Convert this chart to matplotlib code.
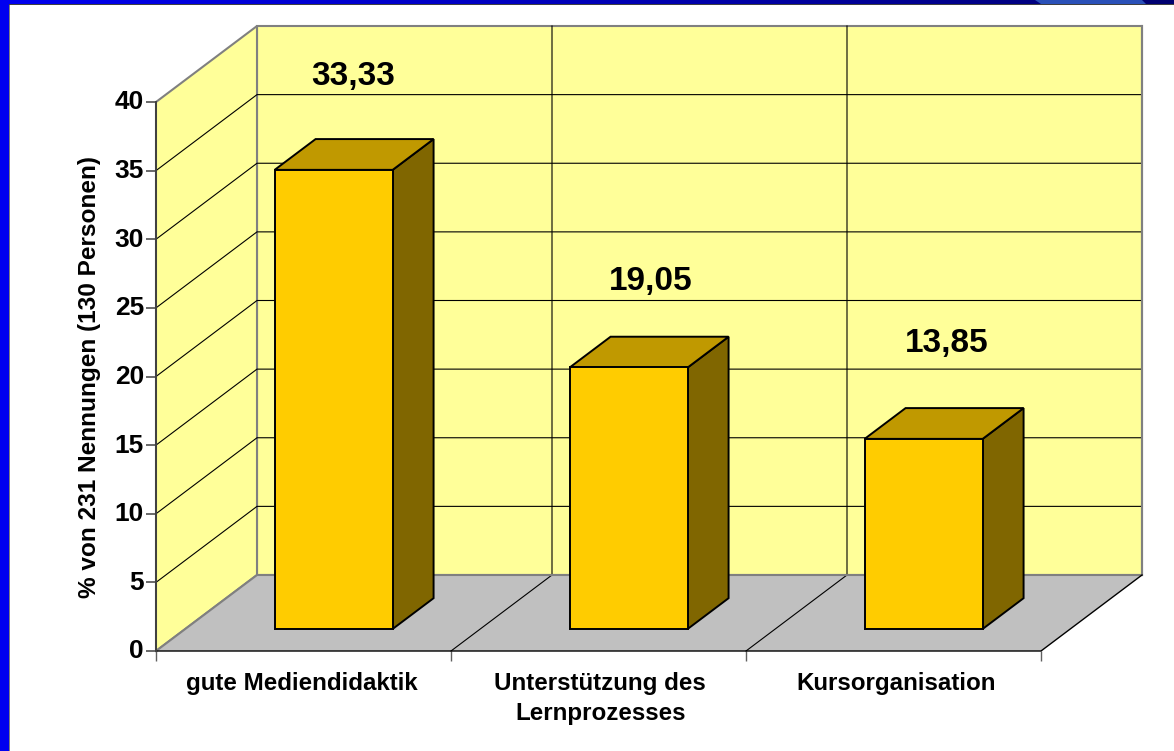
import matplotlib
matplotlib.use("Agg")
import matplotlib.pyplot as plt
from matplotlib.patches import Polygon, Rectangle
from matplotlib.colors import LinearSegmentedColormap
from matplotlib.transforms import ScaledTranslation
import numpy as np

plt.rcParams['font.family'] = ['Liberation Sans', 'DejaVu Sans']

categories = ["gute Mediendidaktik", "Unterstützung des\nLernprozesses", "Kursorganisation"]
# bar heights as drawn; the first bar stands a little above its printed label
values = [33.45, 19.05, 13.85]
value_labels = ["33,33", "19,05", "13,85"]
yticks = [0, 5, 10, 15, 20, 25, 30, 35, 40]
ylabel = "% von 231 Nennungen (130 Personen)"

W, H = 1174, 751
YMAX = 40

# depth of the 3D box, in data units per unit of depth
DX = 101 / 295
DY = 76 / (549 / YMAX)
BAR_W = 0.4
D0, D1 = 0.29, 0.695

# the value labels float at slightly different spots above each bar
label_dx = [0.07, 0.077, 0.08]
label_rise = [6.78, 6.25, 6.98]
# nudge of the category labels, points
cat_dx = [-1, 1.3, 2]


def proj(x, y, d=0.0):
    return (x + d * DX, y + d * DY)


fig = plt.figure(figsize=(W / 100, H / 100), dpi=100, facecolor='white')

# slide background: blue edge, navy strip on top
bg = fig.add_axes([0, 0, 1, 1], zorder=0)
bg.set_xlim(0, W)
bg.set_ylim(H, 0)
bg.axis('off')
bg.add_patch(Rectangle((0, 0), 9, H, fc='#0000f0', ec='none'))
bg.add_patch(Rectangle((9, 4), 1, H, fc='#808080', ec='none'))
cmap = LinearSegmentedColormap.from_list('top', ['#0000f0', '#0000b8', '#000070'])
bg.imshow(np.linspace(0, 1, 512).reshape(1, -1), extent=(0, W, 4, 0), cmap=cmap, aspect='auto')
bg.add_patch(Polygon([(1035, 0), (1142, 0), (1146, 4), (1041, 4)], fc='#2a50b8', ec='none'))
bg.add_patch(Rectangle((9, 4), W, 1, fc='#404040', ec='none'))
bg.set_xlim(0, W)
bg.set_ylim(H, 0)

ax = fig.add_axes([156 / W, (H - 651) / H, 885 / W, 549 / H], zorder=1)
ax.set_xlim(0, len(categories))
ax.set_ylim(0, YMAX)
ax.patch.set_visible(False)
for s in ax.spines.values():
    s.set_visible(False)
n = len(categories)

wall = '#ffff99'
edge = '#808080'
# back wall, side wall, floor
ax.add_patch(Polygon([proj(0, 0, 1), proj(n, 0, 1), proj(n, YMAX, 1), proj(0, YMAX, 1)],
                     fc=wall, ec=edge, lw=1.5, clip_on=False, zorder=1, joinstyle='miter'))
ax.add_patch(Polygon([proj(0, 0), proj(0, 0, 1), proj(0, YMAX, 1), proj(0, YMAX)],
                     fc=wall, ec=edge, lw=1.5, clip_on=False, zorder=1, joinstyle='miter'))
ax.add_patch(Polygon([proj(0, 0), proj(n, 0), proj(n, 0, 1), proj(0, 0, 1)],
                     fc='#c0c0c0', ec='none', clip_on=False, zorder=2))

# gridlines on the walls
for t in yticks[1:-1]:
    ax.plot(*zip(proj(0, t), proj(0, t, 1), proj(n, t, 1)), color='black', lw=0.8,
            clip_on=False, zorder=3)
for i in range(1, n):
    ax.plot(*zip(proj(i, 0), proj(i, 0, 1), proj(i, YMAX, 1)), color='black', lw=0.8,
            clip_on=False, zorder=3)
ax.plot(*zip(proj(n, 0, 1), proj(n, YMAX, 1)), color=edge, lw=1.5, clip_on=False, zorder=3)
ax.plot(*zip(proj(0, 0), proj(0, 0, 1), proj(n, 0, 1)), color=edge, lw=1.5, clip_on=False, zorder=3)
ax.plot(*zip(proj(0, 0), proj(n, 0), proj(n, 0, 1)), color='black', lw=1.0, clip_on=False, zorder=3)

# bars
for i, v in enumerate(values):
    x0 = i + 0.503 - BAR_W / 2
    x1 = i + 0.503 + BAR_W / 2
    ax.add_patch(Polygon([proj(x1, 0, D0), proj(x1, 0, D1), proj(x1, v, D1), proj(x1, v, D0)],
                         fc='#806600', ec='black', lw=1.4, clip_on=False, zorder=5))
    ax.add_patch(Polygon([proj(x0, v, D0), proj(x1, v, D0), proj(x1, v, D1), proj(x0, v, D1)],
                         fc='#c09900', ec='black', lw=1.4, clip_on=False, zorder=5))
    ax.add_patch(Polygon([proj(x0, 0, D0), proj(x1, 0, D0), proj(x1, v, D0), proj(x0, v, D0)],
                         fc='#ffcc00', ec='black', lw=1.4, clip_on=False, zorder=6))
    lx, ly = proj(i + 0.5, v, D0)
    ax.text(lx + label_dx[i], ly + label_rise[i], value_labels[i], ha='center', va='center',
            fontsize=24, fontweight='bold', color='black', zorder=7, clip_on=False)

ax.set_yticks(yticks)
ax.set_xticks(range(n + 1))
ax.set_xticklabels([])
ax.tick_params(axis='y', length=7.2, width=1.1, color='#404040', pad=1.5, labelsize=19)
ax.tick_params(axis='x', length=7.2, width=1.0, color='#606060')
# tick numbers sit a touch above their ticks
lift = ScaledTranslation(0, 1.5 / 72, fig.dpi_scale_trans)
for lab in ax.get_yticklabels():
    lab.set_fontweight('bold')
    lab.set_transform(lab.get_transform() + lift)
ax.spines['left'].set_visible(True)
ax.spines['left'].set_color('#404040')
ax.spines['left'].set_linewidth(1.4)
ax.spines['left'].set_zorder(4)

for i, c in enumerate(categories):
    ax.annotate(c, xy=(i + 0.5, 0), xycoords='data', xytext=(cat_dx[i], -15), textcoords='offset points',
                ha='center', va='top', fontsize=17.4, fontweight='bold', linespacing=1.42,
                annotation_clip=False)

ax.set_ylabel(ylabel, fontsize=17.6, fontweight='bold')
ax.yaxis.set_label_coords((101 - 156) / 885, (651 - 377) / 549)

fig.savefig('out.png', dpi=100, facecolor='white')
